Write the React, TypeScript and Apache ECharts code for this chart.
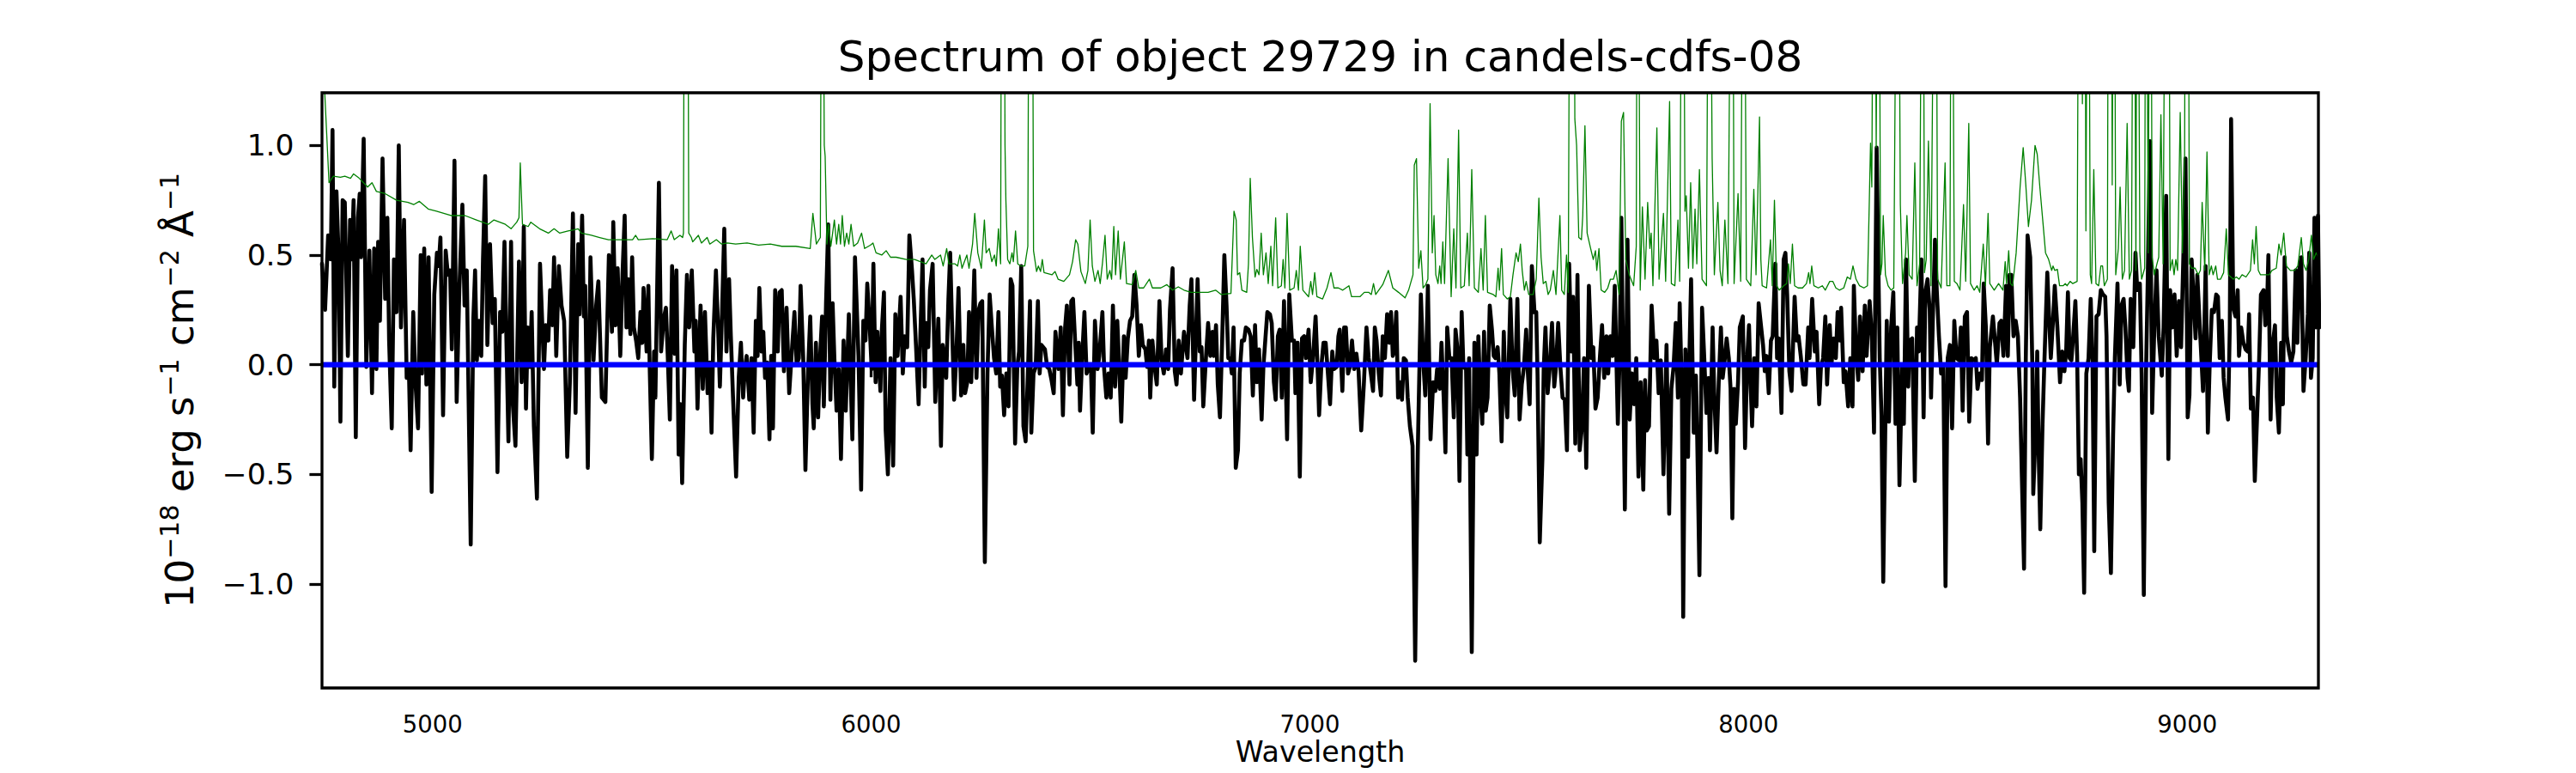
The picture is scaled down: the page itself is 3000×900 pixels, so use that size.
import React, { useEffect, useRef } from "react";
import * as echarts from "echarts";

const FONT = "'DejaVu Sans', 'Liberation Sans', sans-serif";

// Axis limits and ticks
const xMin = 4748;
const xMax = 9299;
const yMin = -1.474;
const yMax = 1.24;
const xTicks = [5000, 6000, 7000, 8000, 9000];
const yTicks = [-1.0, -0.5, 0.0, 0.5, 1.0];

const titleText = "Spectrum of object 29729 in candels-cdfs-08";
const xLabel = "Wavelength";

// Flux (black), [wavelength, flux]
const flux1 = [[4748,0.46],[4755,0.25],[4762,0.59],[4768,0.48],[4772,1.07],[4776,-0.10],[4781,0.79],[4786,0.49],[4790,-0.26],[4795,0.75],[4800,0.74],[4807,0.04],[4812,0.66],[4816,0.48],[4820,0.75],[4825,-0.33],[4830,0.67],[4834,0.78],[4837,0.49],[4843,1.03],[4849,-0.01],[4856,0.52],[4862,-0.13],[4867,0.53],[4872,-0.02],[4876,0.56],[4880,0.20],[4886,0.94],[4892,0.30],[4897,0.67],[4901,0.11],[4907,-0.29],[4912,0.48],[4918,0.24],[4923,1.00],[4928,0.17],[4935,0.66],[4941,-0.06],[4946,-0.01],[4950,-0.39],[4956,0.24],[4961,-0.08],[4967,-0.29],[4973,0.50],[4976,-0.04],[4981,0.53],[4986,-0.09],[4991,0.49],[4998,-0.58],[5004,0.32],[5010,0.51],[5014,0.45],[5018,0.58],[5024,-0.23],[5030,0.52],[5035,0.41],[5040,0.43],[5044,0.07],[5050,0.93],[5055,-0.17],[5061,0.34],[5068,0.73],[5073,0.27],[5078,0.43],[5087,-0.82],[5093,0.21],[5097,0.43],[5101,0.02],[5106,0.20],[5111,0.04],[5115,0.48],[5120,0.86],[5125,0.09],[5131,0.55],[5137,0.19],[5142,0.30],[5148,-0.49],[5154,0.24],[5159,0.15],[5164,0.56],[5173,-0.35],[5179,0.56],[5183,-0.18],[5189,-0.37],[5197,0.47],[5203,-0.08],[5208,0.63],[5213,-0.20],[5217,0.17],[5222,-0.01],[5226,0.24],[5231,-0.28],[5238,-0.61],[5245,0.46],[5254,-0.02],[5258,0.18],[5264,0.11],[5268,0.34],[5273,0.18],[5277,0.49],[5282,0.04],[5288,0.45],[5294,0.27],[5300,0.20],[5307,-0.42],[5313,-0.08],[5320,0.69],[5326,-0.22],[5332,0.55],[5335,0.23],[5341,0.68],[5345,0.22],[5348,0.36],[5354,-0.47],[5360,0.49],[5367,0.02],[5373,0.27],[5378,0.38],[5386,-0.15],[5394,-0.17],[5402,0.50]];
const flux2 = [[5409,0.15],[5412,0.65],[5417,0.18],[5422,0.44],[5428,0.04],[5433,0.41],[5438,0.68],[5442,0.17],[5446,0.39],[5451,0.14],[5455,0.49],[5459,0.17],[5464,0.11],[5469,0.03],[5474,0.24],[5478,0.10],[5481,0.35],[5488,0.06],[5492,0.36],[5495,-0.01],[5500,-0.43],[5505,0.06],[5508,-0.15],[5516,0.83],[5521,0.06],[5527,0.21],[5532,0.26],[5536,0.05],[5541,-0.25],[5546,0.45],[5552,0.05],[5556,0.43],[5561,-0.41],[5565,-0.18],[5569,-0.54],[5575,0.09],[5580,0.41],[5585,0.17],[5591,0.43],[5597,0.06],[5600,0.20],[5604,-0.20],[5611,0.27],[5616,-0.11],[5621,0.24],[5627,-0.13],[5632,0.01],[5636,-0.31],[5640,0.12],[5646,0.43],[5651,0.17],[5655,-0.10],[5660,0.24],[5665,0.62],[5670,0.06],[5676,0.39],[5680,0.13],[5685,-0.15],[5692,-0.51],[5698,-0.06],[5703,0.10],[5708,-0.15],[5712,-0.02],[5716,0.04],[5722,-0.16],[5727,0.03],[5732,-0.31],[5737,0.20],[5741,0.04],[5745,0.35],[5750,0.06],[5754,0.15],[5758,-0.06],[5763,0.01],[5768,-0.34],[5772,0.04],[5776,-0.29],[5781,0.34],[5787,0.06],[5791,0.33],[5796,0.34],[5801,-0.03],[5807,0.26],[5813,-0.13],[5819,0.06],[5825,0.24],[5830,0.00],[5835,0.03],[5839,0.36],[5845,0.03],[5850,-0.48],[5856,-0.03],[5861,0.22],[5866,-0.18],[5869,-0.29],[5874,0.10],[5879,-0.24],[5884,0.06],[5888,0.22],[5892,-0.19],[5897,0.28],[5902,0.64],[5907,-0.16],[5912,0.28],[5916,0.03],[5921,-0.21],[5926,-0.02],[5931,-0.43],[5937,0.11],[5942,-0.21],[5949,0.23],[5957,-0.34],[5963,0.49],[5971,0.04],[5977,-0.57],[5982,0.20],[5987,0.11],[5991,0.37],[5996,0.20],[6001,-0.02],[6005,0.46],[6010,-0.08],[6014,0.15],[6021,-0.12],[6024,0.15],[6029,0.33],[6033,-0.30],[6038,-0.50],[6044,0.03],[6050,-0.46],[6055,0.23]];
const flux3 = [[6060,0.04],[6067,0.31],[6072,-0.04],[6076,0.13],[6082,0.08],[6087,0.59],[6093,0.43],[6097,0.30],[6102,0.09],[6108,-0.18],[6112,0.13],[6117,0.48],[6122,-0.10],[6125,0.19],[6130,0.08],[6134,0.34],[6140,0.46],[6146,-0.17],[6153,0.21],[6159,-0.37],[6163,0.09],[6167,0.03],[6171,-0.06],[6176,0.30],[6180,0.51],[6184,0.20],[6189,-0.16],[6194,0.04],[6199,0.35],[6205,-0.14],[6210,0.09],[6214,-0.13],[6219,-0.08],[6223,0.24],[6228,-0.08],[6235,0.43],[6240,-0.06],[6245,0.25],[6249,0.28],[6253,0.29],[6259,-0.90],[6265,-0.04],[6270,0.32],[6275,0.17],[6280,0.03],[6285,-0.04],[6290,0.24],[6294,-0.10],[6298,-0.05],[6303,-0.23],[6308,-0.04],[6313,-0.19],[6318,0.39],[6322,0.36],[6328,-0.36],[6333,-0.01],[6337,0.06],[6342,0.45],[6347,-0.28],[6352,-0.35],[6357,-0.05],[6362,0.29],[6365,-0.31],[6370,-0.04],[6375,-0.01],[6380,0.29],[6384,-0.04],[6388,0.09],[6396,0.07],[6401,-0.01],[6406,-0.02],[6411,-0.07],[6416,-0.13],[6420,0.15],[6427,-0.02],[6432,0.17],[6437,-0.23],[6442,0.17],[6446,0.27],[6452,-0.09],[6456,0.29],[6460,0.30],[6465,0.10],[6470,-0.09],[6473,0.10],[6476,-0.21],[6481,0.04],[6486,0.24],[6491,-0.04],[6496,-0.01],[6501,-0.02],[6505,-0.31],[6510,0.20],[6516,-0.02],[6520,0.04],[6527,0.24],[6531,-0.02],[6536,-0.15],[6541,-0.04],[6546,-0.15],[6551,0.27],[6556,-0.10],[6561,0.20],[6566,-0.04],[6570,-0.26],[6576,0.13],[6580,-0.06],[6585,0.12],[6590,0.20],[6595,0.22],[6600,0.41],[6605,0.27],[6610,0.04],[6615,0.18],[6619,0.09],[6625,0.07],[6629,-0.01],[6633,0.11],[6636,-0.15],[6641,0.11],[6646,-0.01],[6651,-0.09],[6657,0.29],[6662,0.02],[6667,-0.04],[6672,0.07],[6677,-0.02],[6681,0.25],[6687,0.44],[6692,-0.03],[6696,-0.09],[6701,0.11],[6706,-0.04],[6713,0.15]];
const flux4 = [[6721,0.03],[6726,0.27],[6730,0.39],[6736,-0.16],[6740,0.11],[6744,0.39],[6749,0.06],[6753,0.08],[6757,-0.19],[6763,0.03],[6768,0.19],[6773,0.04],[6778,0.15],[6781,0.04],[6786,0.18],[6790,-0.09],[6795,-0.24],[6800,0.11],[6805,0.50],[6810,0.27],[6814,0.03],[6818,0.03],[6822,-0.04],[6826,0.17],[6831,-0.47],[6836,-0.39],[6840,-0.04],[6845,0.11],[6850,0.11],[6854,0.17],[6860,0.16],[6865,0.13],[6870,-0.14],[6875,0.18],[6879,-0.08],[6884,0.07],[6890,-0.25],[6894,-0.01],[6899,0.13],[6903,0.24],[6909,0.23],[6913,0.19],[6918,-0.08],[6922,-0.16],[6927,0.13],[6931,0.16],[6936,-0.15],[6941,0.29],[6944,0.03],[6948,-0.34],[6953,0.32],[6959,0.11],[6964,0.11],[6967,-0.13],[6972,0.10],[6977,-0.51],[6982,0.12],[6987,0.13],[6991,0.03],[6997,0.16],[7002,-0.08],[7007,0.03],[7013,0.22],[7018,-0.04],[7021,-0.23],[7026,-0.01],[7031,0.10],[7036,0.10],[7040,-0.01],[7046,-0.18],[7051,0.06],[7055,-0.02],[7061,-0.01],[7065,0.13],[7068,0.16],[7074,-0.12],[7078,0.17],[7082,0.17],[7087,-0.04],[7091,-0.01],[7096,0.11],[7101,-0.02],[7106,0.05],[7111,-0.03],[7117,-0.30],[7123,-0.09],[7129,0.17],[7134,0.03],[7139,-0.04],[7144,-0.12],[7148,0.17],[7152,0.11],[7157,-0.04],[7162,-0.14],[7166,0.13],[7171,0.03],[7176,0.23],[7181,0.10],[7185,0.24],[7189,0.04],[7192,0.06],[7197,0.24],[7201,-0.15],[7206,-0.08],[7210,-0.16],[7214,0.03],[7219,0.02],[7223,-0.15],[7228,-0.28],[7234,-0.37],[7240,-1.35],[7246,-0.39],[7253,0.32],[7258,0.03],[7263,-0.14],[7269,0.36],[7275,-0.34],[7281,-0.08],[7286,-0.12],[7290,-0.02],[7296,-0.11],[7300,0.10],[7305,-0.15],[7309,-0.40],[7313,0.17],[7318,0.03],[7323,0.03],[7328,-0.24],[7332,0.16],[7336,0.08],[7341,-0.53],[7346,0.24],[7350,-0.01],[7356,-0.02],[7359,-0.41],[7363,0.03]];
const flux5 = [[7369,-1.31],[7375,0.10],[7380,-0.41],[7384,0.13],[7388,-0.11],[7393,-0.27],[7397,0.15],[7401,-0.21],[7405,-0.15],[7410,0.27],[7415,0.16],[7419,0.04],[7423,0.03],[7428,0.08],[7432,-0.04],[7437,-0.35],[7442,0.15],[7446,-0.13],[7450,-0.24],[7457,0.30],[7462,-0.02],[7467,-0.14],[7473,0.30],[7478,-0.25],[7483,-0.09],[7488,-0.01],[7493,0.16],[7497,-0.04],[7501,-0.18],[7506,0.45],[7512,0.24],[7516,0.24],[7519,-0.05],[7524,-0.81],[7530,-0.43],[7533,-0.02],[7537,0.17],[7542,-0.13],[7547,-0.01],[7552,0.19],[7557,-0.10],[7561,-0.01],[7566,0.19],[7571,-0.01],[7576,-0.15],[7581,-0.16],[7586,-0.39],[7591,0.46],[7596,0.06],[7600,0.31],[7605,-0.36],[7610,0.41],[7615,-0.39],[7620,-0.29],[7625,0.03],[7630,-0.47],[7636,0.36],[7642,0.03],[7646,0.08],[7651,-0.20],[7656,-0.15],[7661,0.03],[7666,0.18],[7671,-0.06],[7676,0.13],[7680,-0.04],[7685,0.13],[7690,0.04],[7695,0.36],[7702,-0.27],[7706,0.03],[7710,0.67],[7715,-0.15],[7718,-0.66],[7724,0.57],[7729,-0.25],[7734,-0.04],[7739,-0.18],[7744,0.03],[7749,-0.51],[7754,-0.08],[7760,-0.57],[7764,-0.07],[7768,-0.30],[7773,-0.28],[7779,0.27],[7785,0.03],[7790,0.11],[7795,-0.13],[7800,0.02],[7806,-0.50],[7813,0.09],[7819,-0.68],[7824,-0.11],[7829,-0.01],[7834,0.19],[7839,-0.15],[7843,0.28],[7848,-0.13],[7851,-1.15],[7856,0.07],[7862,-0.42],[7865,0.03],[7869,0.39],[7875,-0.31],[7880,-0.05],[7883,-0.34],[7888,-0.96],[7894,0.26],[7899,0.03],[7904,-0.22],[7909,-0.06],[7912,-0.39],[7918,0.17],[7922,-0.15],[7927,-0.40],[7932,-0.08],[7937,0.17],[7941,-0.06],[7946,0.03],[7950,0.12],[7955,0.03],[7959,-0.11],[7963,-0.70],[7967,-0.11],[7971,-0.27],[7976,-0.08],[7980,0.17],[7987,0.22],[7992,-0.38],[7997,0.03],[8001,0.18],[8005,-0.11],[8008,-0.28],[8013,0.03],[8018,-0.19],[8023,0.28]];
const flux6 = [[8033,0.09],[8037,-0.03],[8041,0.04],[8046,-0.13],[8051,0.11],[8055,0.13],[8061,0.46],[8065,0.03],[8069,0.12],[8075,-0.22],[8080,0.48],[8084,0.51],[8088,0.32],[8093,-0.03],[8098,-0.12],[8105,0.31],[8110,0.11],[8114,0.13],[8119,0.04],[8125,-0.09],[8130,-0.09],[8136,0.17],[8139,0.03],[8145,0.30],[8151,0.06],[8155,0.15],[8161,-0.18],[8165,-0.01],[8170,0.03],[8175,0.22],[8179,-0.09],[8185,0.18],[8189,0.00],[8194,0.12],[8199,0.03],[8203,0.24],[8208,0.11],[8211,0.26],[8217,-0.08],[8221,-0.03],[8227,-0.19],[8232,0.03],[8237,-0.19],[8240,0.36],[8245,0.06],[8250,-0.07],[8254,0.22],[8260,-0.03],[8265,0.27],[8269,0.04],[8276,0.29],[8281,0.13],[8286,-0.31],[8292,0.99],[8299,0.03],[8303,-0.23],[8307,-0.99],[8315,0.20],[8320,-0.26],[8325,0.17],[8330,0.33],[8335,-0.27],[8339,0.17],[8344,-0.55],[8350,-0.01],[8354,-0.27],[8359,0.48],[8364,-0.10],[8367,0.11],[8373,0.12],[8379,-0.53],[8384,0.17],[8388,0.06],[8394,0.48],[8399,-0.24],[8403,0.33],[8408,0.39],[8413,0.25],[8416,-0.15],[8420,0.20],[8425,0.57],[8429,0.34],[8434,0.13],[8439,-0.04],[8444,-0.01],[8449,-1.01],[8454,0.03],[8459,0.09],[8464,-0.29],[8469,0.20],[8474,0.03],[8480,0.02],[8484,0.17],[8488,-0.21],[8493,0.22],[8498,0.24],[8503,-0.26],[8508,0.03],[8512,0.02],[8518,0.03],[8522,-0.11],[8527,-0.04],[8532,-0.07],[8536,0.37],[8541,0.17],[8546,-0.36],[8550,0.08],[8557,0.22],[8562,0.10],[8566,0.00],[8572,0.19],[8576,0.20],[8581,0.04],[8587,0.36],[8591,0.04],[8595,0.41],[8599,0.41],[8604,0.13],[8609,0.20],[8614,0.13],[8619,-0.15],[8623,-0.51],[8628,-0.93],[8632,0.03],[8636,0.59],[8642,0.49],[8647,-0.01],[8649,-0.59],[8655,-0.27],[8658,0.06],[8661,-0.37],[8665,-0.75],[8670,-0.28],[8674,-0.01],[8681,0.42]];
const flux7 = [[8689,0.03],[8694,0.20],[8698,0.36],[8704,0.17],[8710,-0.08],[8715,0.06],[8720,-0.03],[8724,0.06],[8728,0.33],[8732,0.03],[8736,0.02],[8740,0.13],[8745,0.29],[8749,0.04],[8753,-0.50],[8757,-0.43],[8761,-0.63],[8765,-1.04],[8770,-0.04],[8775,0.03],[8780,0.30],[8784,0.03],[8788,-0.85],[8793,0.22],[8798,0.23],[8803,0.34],[8808,0.32],[8813,0.31],[8816,0.13],[8821,-0.63],[8826,-0.95],[8831,-0.32],[8835,0.03],[8841,0.37],[8846,-0.09],[8850,0.27],[8855,0.30],[8859,0.17],[8864,-0.06],[8867,-0.12],[8871,0.30],[8877,0.08],[8882,0.51],[8886,0.34],[8892,0.37],[8896,-0.04],[8901,-1.05],[8906,-0.04],[8910,0.39],[8915,1.02],[8920,-0.22],[8925,0.17],[8930,0.43],[8935,0.13],[8942,-0.05],[8946,0.17],[8952,0.77],[8957,-0.43],[8961,0.34],[8966,0.17],[8971,0.32],[8976,0.04],[8981,0.29],[8986,0.08],[8991,0.48],[8996,0.94],[9001,-0.24],[9005,-0.14],[9010,0.48],[9015,0.29],[9019,0.12],[9023,0.41],[9028,0.20],[9032,0.04],[9036,-0.12],[9042,0.45],[9047,-0.31],[9051,-0.01],[9056,0.25],[9061,0.24],[9066,0.32],[9070,0.31],[9074,0.03],[9079,0.20],[9083,-0.06],[9087,-0.15],[9093,-0.25],[9097,0.17],[9100,1.12],[9105,0.26],[9110,0.22],[9115,0.34],[9118,0.04],[9123,0.17],[9128,0.10],[9133,0.07],[9138,0.06],[9141,0.23],[9145,-0.20],[9150,-0.15],[9154,-0.53],[9159,-0.25],[9164,0.03],[9168,0.32],[9174,0.34],[9178,0.18],[9182,0.27],[9185,0.50],[9190,-0.25],[9194,0.08],[9200,0.18],[9204,-0.15],[9209,-0.31],[9214,0.10],[9218,-0.18],[9222,0.49],[9227,0.13],[9232,0.06],[9237,0.01],[9242,0.06],[9247,0.43],[9251,0.10],[9255,0.43],[9260,0.49],[9265,-0.12],[9270,0.03],[9275,0.23],[9278,0.51],[9282,-0.06],[9286,0.03],[9290,0.67],[9294,0.17],[9298,0.68],[9301,0.17]];

// Noise / error spectrum (green), [wavelength, value]
const noise1 = [[4748,3.0],[4754,1.25],[4764,0.83],[4774,0.86],[4790,0.855],[4800,0.86],[4813,0.85],[4820,0.87],[4833,0.85],[4852,0.81],[4862,0.83],[4872,0.79],[4892,0.78],[4918,0.75],[4944,0.74],[4957,0.73],[4970,0.745],[4990,0.71],[5009,0.70],[5042,0.68],[5074,0.68],[5100,0.66],[5127,0.64],[5140,0.66],[5166,0.64],[5179,0.62],[5192,0.65],[5197,0.67],[5200,0.92],[5205,0.64],[5218,0.63],[5224,0.65],[5244,0.62],[5264,0.60],[5277,0.62],[5290,0.60],[5309,0.61],[5322,0.615],[5332,0.62],[5339,0.60],[5362,0.59],[5381,0.58],[5401,0.57]];
const noise2 = [[5456,0.57],[5463,0.59],[5469,0.57],[5502,0.575],[5535,0.57],[5544,0.61],[5551,0.57],[5564,0.59],[5570,0.58],[5572,0.60],[5575,3.0],[5581,3.0],[5584,0.60],[5590,0.58],[5593,0.56],[5606,0.59],[5613,0.555],[5626,0.58],[5632,0.55],[5647,0.57],[5659,0.55],[5672,0.555],[5691,0.55],[5717,0.555],[5743,0.545],[5770,0.55],[5796,0.54],[5828,0.54],[5861,0.53],[5867,0.69],[5875,0.55],[5884,0.58],[5888,3.0],[5893,1.0],[5895,0.95],[5899,0.55],[5903,0.64],[5908,0.54],[5916,0.66],[5921,0.55],[5926,0.64],[5930,0.55],[5934,0.68],[5939,0.54],[5944,0.60],[5949,0.55],[5954,0.64],[5960,0.54],[5969,0.555],[5978,0.60],[5985,0.53],[5998,0.545],[6004,0.555],[6011,0.51],[6024,0.50],[6034,0.52],[6044,0.49],[6057,0.49]];
const noise3 = [[6080,0.48],[6099,0.48],[6125,0.46],[6138,0.50],[6145,0.48],[6158,0.50],[6164,0.45],[6172,0.53],[6177,0.46],[6191,0.46],[6197,0.45],[6202,0.50],[6207,0.44],[6218,0.50],[6223,0.44],[6231,0.55],[6236,0.69],[6243,0.51],[6251,0.44],[6258,0.66],[6262,0.51],[6269,0.53],[6275,0.47],[6281,0.50],[6285,0.45],[6290,0.62],[6295,0.46],[6298,3.0],[6302,3.0],[6305,1.0],[6307,0.75],[6311,0.48],[6316,0.46],[6321,0.51],[6324,0.47],[6329,0.61],[6334,0.46],[6341,0.45],[6350,0.45],[6357,0.54],[6361,3.0],[6366,3.0],[6370,0.52],[6377,0.425],[6381,0.45],[6386,0.425],[6390,0.48],[6394,0.42],[6412,0.41],[6419,0.425],[6426,0.39],[6439,0.38],[6452,0.41],[6459,0.47],[6466,0.57],[6471,0.55],[6478,0.425],[6488,0.37],[6494,0.43],[6499,0.66],[6504,0.45],[6510,0.38],[6517,0.43],[6522,0.37],[6527,0.46],[6533,0.59],[6538,0.39],[6544,0.43],[6548,0.39],[6553,0.63],[6557,0.41],[6563,0.61],[6568,0.39],[6577,0.56],[6582,0.37],[6595,0.365],[6603,0.43],[6610,0.35],[6621,0.35],[6634,0.39],[6641,0.35],[6660,0.35],[6674,0.365],[6687,0.34],[6700,0.355],[6713,0.34]];
const noise4 = [[6729,0.33],[6749,0.33],[6768,0.33],[6785,0.34],[6798,0.32],[6820,0.325],[6827,0.70],[6832,0.66],[6835,0.41],[6840,0.42],[6845,0.34],[6856,0.33],[6860,0.46],[6864,0.85],[6869,0.58],[6875,0.40],[6879,0.435],[6884,0.41],[6889,0.60],[6894,0.41],[6900,0.51],[6905,0.37],[6911,0.54],[6915,0.36],[6922,0.67],[6927,0.35],[6935,0.36],[6939,0.48],[6943,0.35],[6948,0.69],[6954,0.34],[6964,0.35],[6969,0.43],[6974,0.34],[6978,0.54],[6984,0.34],[6997,0.31],[7002,0.38],[7006,0.32],[7011,0.42],[7016,0.31],[7029,0.30],[7039,0.35],[7048,0.42],[7055,0.35],[7065,0.35],[7075,0.34],[7082,0.35],[7089,0.36],[7095,0.31],[7114,0.31],[7124,0.33],[7134,0.33],[7140,0.32],[7145,0.37],[7150,0.32],[7166,0.365],[7179,0.43],[7189,0.35],[7202,0.33],[7217,0.305],[7225,0.34],[7235,0.41],[7238,0.91],[7243,0.94],[7248,0.44],[7253,0.52],[7258,0.35],[7264,0.365],[7269,0.39],[7274,1.19],[7279,0.51],[7283,0.68],[7287,0.41],[7292,0.37],[7296,0.45],[7299,0.37],[7303,0.56],[7307,0.37],[7315,0.94],[7322,0.31],[7328,0.62],[7333,0.35],[7339,1.07],[7344,0.35],[7352,0.36],[7359,0.60],[7363,0.36],[7369,0.89]];
const noise5 = [[7375,0.35],[7384,0.33],[7390,0.53],[7395,0.34],[7400,0.68],[7405,0.33],[7418,0.32],[7424,0.31],[7429,0.44],[7432,0.34],[7437,0.53],[7441,0.32],[7450,0.30],[7457,0.31],[7463,0.41],[7470,0.51],[7475,0.47],[7480,0.55],[7484,0.43],[7489,0.34],[7493,0.38],[7499,0.32],[7509,0.32],[7516,0.39],[7522,0.76],[7527,0.49],[7532,0.37],[7538,0.38],[7543,0.32],[7548,0.34],[7555,0.43],[7561,0.32],[7570,0.68],[7574,0.34],[7580,0.32],[7585,0.50],[7589,0.33],[7594,3.0],[7600,3.0],[7604,1.12],[7608,1.00],[7613,0.58],[7619,0.57],[7622,0.68],[7627,1.09],[7632,0.60],[7640,0.53],[7646,0.48],[7651,0.52],[7654,0.43],[7659,0.53],[7664,0.34],[7672,0.33],[7679,0.35],[7685,0.39],[7692,0.39],[7698,0.43],[7705,0.32],[7710,1.11],[7715,1.15],[7720,0.48],[7728,0.41],[7738,0.36],[7744,0.54],[7747,3.0],[7753,0.34],[7758,0.72],[7764,0.39],[7770,0.74],[7775,0.53],[7778,0.60],[7782,0.36],[7791,1.08],[7796,0.39],[7806,0.69],[7811,0.38],[7820,1.20],[7824,0.37],[7832,0.36],[7839,0.66],[7843,0.38],[7850,3.0],[7855,0.70],[7858,0.77],[7863,0.44],[7868,0.83],[7873,0.44],[7878,0.71],[7882,0.46],[7888,0.89],[7894,0.39],[7904,0.36],[7910,3.0],[7917,0.94],[7922,0.41],[7930,0.74],[7935,0.43],[7940,0.36],[7946,0.66],[7953,0.37],[7963,3.0],[7967,0.37],[7976,0.78],[7982,0.38],[7989,3.0],[7995,0.39],[8005,0.36],[8012,0.80],[8017,0.41],[8025,1.13]];
const noise6 = [[8028,0.48],[8031,0.36],[8041,0.35],[8050,0.57],[8054,0.36],[8059,0.75],[8064,0.36],[8070,0.34],[8080,0.36],[8087,0.37],[8091,0.46],[8095,0.37],[8100,0.55],[8105,0.36],[8113,0.35],[8123,0.35],[8132,0.37],[8137,0.42],[8140,0.37],[8144,0.45],[8149,0.36],[8159,0.35],[8168,0.36],[8175,0.34],[8185,0.38],[8192,0.38],[8199,0.35],[8207,0.34],[8217,0.35],[8225,0.40],[8232,0.39],[8238,0.45],[8245,0.39],[8253,0.36],[8263,0.35],[8271,0.36],[8275,0.72],[8278,1.01],[8281,0.81],[8286,3.0],[8291,0.99],[8296,3.0],[8301,0.41],[8304,0.46],[8307,0.68],[8312,0.41],[8318,0.36],[8325,0.34],[8331,0.35],[8340,3.0],[8346,0.73],[8351,0.37],[8358,0.51],[8361,0.68],[8366,0.41],[8373,0.39],[8379,0.92],[8384,0.36],[8390,0.46],[8397,3.0],[8401,0.42],[8405,0.48],[8410,1.02],[8416,0.36],[8426,3.0],[8431,0.39],[8439,0.35],[8448,0.92],[8452,0.36],[8459,0.36],[8463,3.0],[8469,0.38],[8475,0.37],[8482,0.34],[8490,0.73],[8495,0.38],[8502,1.10],[8506,0.37],[8514,0.34],[8521,0.36],[8527,0.33],[8535,0.55],[8540,0.36],[8546,0.69],[8550,0.37],[8560,0.34],[8570,0.37],[8580,0.34],[8585,0.47],[8588,0.37],[8593,0.52],[8597,0.37],[8602,0.36],[8610,0.51],[8619,0.81],[8626,0.99],[8632,0.82],[8638,0.63],[8645,0.75],[8653,1.00],[8658,0.96],[8664,0.81],[8671,0.65],[8677,0.51],[8684,0.48]];
const noise7 = [[8691,0.43],[8694,0.45],[8698,0.43],[8704,0.435],[8709,0.36],[8717,0.36],[8722,0.37],[8726,0.36],[8733,0.38],[8739,0.37],[8749,0.38],[8754,3.0],[8758,3.0],[8761,1.19],[8766,3.0],[8769,0.61],[8774,3.0],[8779,0.41],[8782,0.37],[8787,0.89],[8792,0.37],[8798,0.36],[8803,0.45],[8807,0.45],[8811,0.36],[8818,0.39],[8821,3.0],[8826,3.0],[8829,0.82],[8833,3.0],[8837,0.41],[8843,0.53],[8847,0.81],[8852,0.39],[8857,0.43],[8863,1.10],[8868,0.39],[8873,0.43],[8878,3.0],[8883,0.43],[8886,3.0],[8892,0.51],[8896,0.39],[8903,0.44],[8906,3.0],[8911,0.51],[8916,3.0],[8920,0.49],[8925,0.41],[8931,0.46],[8935,0.49],[8940,1.14],[8945,0.46],[8952,3.0],[8957,3.0],[8961,0.43],[8966,0.48],[8970,0.41],[8974,0.48],[8978,0.43],[8984,1.15],[8989,0.51],[8994,0.96],[8997,3.0],[9001,3.0],[9005,0.46],[9010,0.44],[9018,0.44],[9025,0.41],[9030,0.43],[9034,0.74],[9040,0.43],[9045,0.97],[9050,0.41],[9055,0.45],[9059,0.41],[9065,0.45],[9069,0.39],[9076,0.39],[9083,0.42],[9089,0.62],[9094,0.41],[9105,0.39],[9112,0.40],[9118,0.39],[9125,0.41],[9134,0.40],[9144,0.43],[9149,0.57],[9153,0.46],[9157,0.63],[9162,0.43],[9167,0.41],[9177,0.41],[9187,0.41],[9193,0.43],[9203,0.44],[9209,0.55],[9214,0.50],[9220,0.60],[9226,0.45],[9235,0.43],[9245,0.43],[9252,0.45],[9260,0.58],[9265,0.46],[9271,0.43],[9277,0.48],[9283,0.59],[9288,0.48],[9294,0.51],[9301,0.48]];

// Zero reference line (blue)
const zeroLine = [[xMin, 0], [xMax, 0]];

const fluxData = [...flux1, ...flux2, ...flux3, ...flux4, ...flux5, ...flux6, ...flux7];
const noiseData = [...noise1, ...noise2, ...noise3, ...noise4, ...noise5, ...noise6, ...noise7];

// Layout (pixels)
const GRID = { left: 375, top: 108, width: 2325, height: 693 };

function fmtY(v: number): string {
  const s = Math.abs(v).toFixed(1);
  return v < -1e-9 ? "\u2212" + s : s;
}

export default function App() {
  const ref = useRef<HTMLDivElement>(null);
  useEffect(() => {
    document.body.style.margin = "0";
    if (!ref.current) return;
    const chart = echarts.init(ref.current, undefined, { renderer: "svg" });
    const cx = GRID.left + GRID.width / 2;
    const cy = GRID.top + GRID.height / 2;
    chart.setOption({
      animation: false,
      backgroundColor: "#ffffff",
      textStyle: { fontFamily: FONT, color: "#000" },
      grid: { ...GRID, containLabel: false, show: false },
      xAxis: {
        type: "value",
        min: xMin,
        max: xMax,
        axisLine: { show: false },
        splitLine: { show: false },
        axisTick: {
          show: true,
          customValues: xTicks,
          length: 14.6,
          inside: false,
          lineStyle: { color: "#000", width: 3.3 },
        },
        axisLabel: {
          show: true,
          customValues: xTicks,
          formatter: (v: number) => String(v),
          fontSize: 27.5,
          fontFamily: FONT,
          color: "#000",
          margin: 28,
        },
      },
      yAxis: {
        type: "value",
        min: yMin,
        max: yMax,
        axisLine: { show: false },
        splitLine: { show: false },
        axisTick: {
          show: true,
          customValues: yTicks,
          length: 14.6,
          inside: false,
          lineStyle: { color: "#000", width: 3.3 },
        },
        axisLabel: {
          show: true,
          customValues: yTicks,
          formatter: (v: number) => fmtY(v),
          fontSize: 34.5,
          fontFamily: FONT,
          color: "#000",
          margin: 32.5,
        },
      },
      series: [
        {
          type: "line",
          data: fluxData,
          showSymbol: false,
          symbol: "none",
          silent: true,
          lineStyle: { color: "#000000", width: 4.6, join: "round", cap: "round" },
          z: 2,
        },
        {
          type: "line",
          data: noiseData,
          showSymbol: false,
          symbol: "none",
          silent: true,
          lineStyle: { color: "#008000", width: 1.3, join: "round" },
          z: 3,
        },
        {
          type: "line",
          data: zeroLine,
          showSymbol: false,
          symbol: "none",
          silent: true,
          lineStyle: { color: "#0000ff", width: 6.25 },
          z: 4,
        },
      ],
      graphic: [
        {
          type: "rect",
          silent: true,
          z: 100,
          shape: { x: GRID.left, y: GRID.top, width: GRID.width, height: GRID.height },
          style: { fill: "none", stroke: "#000", lineWidth: 3.3 },
        },
        {
          type: "text",
          silent: true,
          x: cx,
          y: 65.7,
          style: {
            text: titleText,
            fontSize: 50,
            fontFamily: FONT,
            fill: "#000",
            align: "center",
            verticalAlign: "middle",
          },
        },
        {
          type: "text",
          silent: true,
          x: cx,
          y: 875.6,
          style: {
            text: xLabel,
            fontSize: 33.3,
            fontFamily: FONT,
            fill: "#000",
            align: "center",
            verticalAlign: "middle",
          },
        },
        {
          type: "text",
          silent: true,
          x: 209,
          y: cy,
          rotation: Math.PI / 2,
          style: {
            text: "{m|10}{s|\u221218}{m| erg s}{s|\u22121}{m| cm}{s|\u22122}{m| \u00c5}{s|\u22121}",
            fontFamily: FONT,
            fontSize: 45,
            fill: "#000",
            align: "center",
            verticalAlign: "middle",
            rich: {
              m: { fontSize: 45, lineHeight: 54, fontFamily: FONT, fill: "#000", verticalAlign: "middle" },
              s: { fontSize: 30, lineHeight: 20, fontFamily: FONT, fill: "#000", verticalAlign: "top" },
            },
          },
        },
      ],
    });
    return () => chart.dispose();
  }, []);
  return (
    <div
      ref={ref}
      style={{ position: "absolute", left: 0, top: 0, width: 3000, height: 900, background: "#fff" }}
    />
  );
}
